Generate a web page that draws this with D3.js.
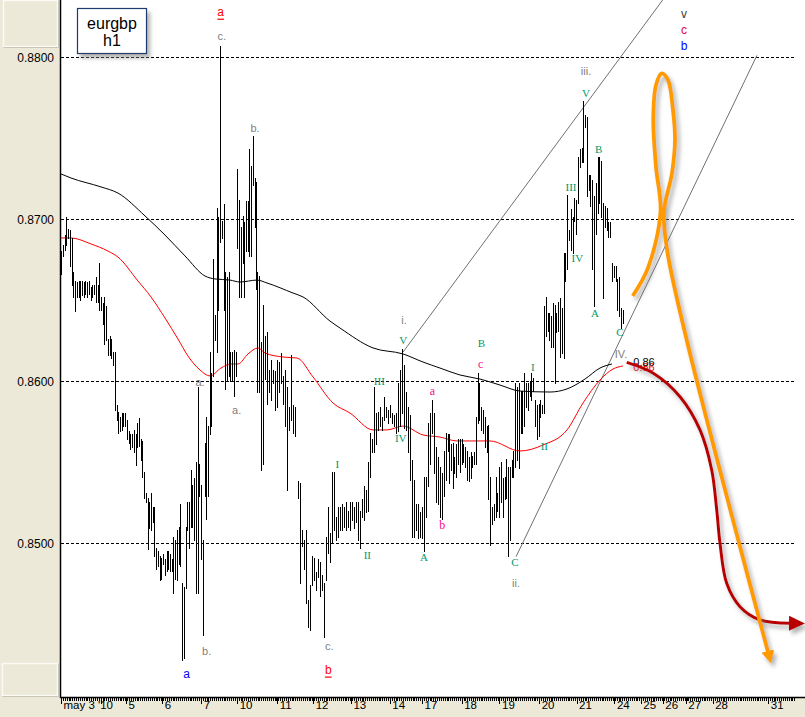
<!DOCTYPE html>
<html><head><meta charset="utf-8">
<script src="https://cdn.jsdelivr.net/npm/d3@7"></script>
<style>body{margin:0;background:#fff}svg{display:block}</style>
</head><body><svg id="c" width="805" height="717"></svg>
<script>
// ---------- DATA ----------
const yTickValues = [0.88, 0.87, 0.86, 0.85];
const dayTickPos = [0, 1.05, 1.72, 2.68, 3.71, 4.66, 5.72, 6.67, 7.67, 8.70, 9.55, 10.60, 11.60, 12.65, 13.64, 14.64, 15.34, 15.92, 16.53, 17.24, 18.71];
const dayTickLabels = ["may 3 '10", "", "5", "6", "7", "10", "11", "12", "13", "14", "17", "18", "19", "20", "21", "24", "25", "26", "27", "28", "31"];

// hourly bars, three runs of sessions (time span in chart days)
const seg1Span = [0.008, 5.167];
const seg1High = [0.8680,0.8684,0.8690,0.8701,0.8694,0.8693,0.8688,0.8667,0.8662,0.8661,
0.8662,0.8662,0.8662,0.8661,0.8662,0.8661,0.8662,0.8658,0.8659,0.8659,
0.8664,0.8659,0.8673,0.8652,0.8648,0.8652,0.8646,0.8626,0.8628,0.8626,
0.8618,0.8618,0.8585,0.8581,0.8578,0.8580,0.8580,0.8580,0.8576,0.8569,
0.8567,0.8567,0.8570,0.8567,0.8574,0.8577,0.8564,0.8563,0.8544,0.8531,
0.8528,0.8525,0.8531,0.8522,0.8522,0.8497,0.8495,0.8492,0.8491,0.8493,
0.8490,0.8495,0.8495,0.8493,0.8490,0.8504,0.8502,0.8508,0.8510,0.8524,
0.8475,0.8473,0.8510,0.8525,0.8525,0.8545,0.8536,0.8540,0.8550,0.8596,
0.8549,0.8536,0.8502,0.8562,0.8578,0.8572,0.8618,0.8605,0.8675,0.8641,
0.8707,0.8701,0.8807,0.8699,0.8709,0.8667,0.8664,0.8667,0.8618,0.8618,
0.8619,0.8618,0.8731,0.8712,0.8695,0.8702,0.8698,0.8711,0.8711,0.8743,
0.8733,0.8751,0.8725,0.8723];
const seg1Low = [0.8666,0.8677,0.8681,0.8684,0.8688,0.8671,0.8659,0.8652,0.8643,0.8652,
0.8652,0.8650,0.8653,0.8652,0.8654,0.8652,0.8654,0.8650,0.8652,0.8654,
0.8649,0.8649,0.8644,0.8644,0.8635,0.8623,0.8625,0.8616,0.8616,0.8614,
0.8610,0.8582,0.8576,0.8568,0.8569,0.8570,0.8572,0.8572,0.8564,0.8562,
0.8558,0.8559,0.8556,0.8548,0.8559,0.8560,0.8551,0.8541,0.8528,0.8525,
0.8496,0.8509,0.8508,0.8513,0.8492,0.8484,0.8486,0.8477,0.8478,0.8487,
0.8480,0.8483,0.8484,0.8483,0.8483,0.8469,0.8478,0.8477,0.8487,0.8486,
0.8428,0.8429,0.8472,0.8508,0.8497,0.8510,0.8510,0.8502,0.8469,0.8469,
0.8529,0.8490,0.8443,0.8529,0.8515,0.8529,0.8567,0.8572,0.8603,0.8625,
0.8618,0.8644,0.8686,0.8688,0.8644,0.8595,0.8600,0.8603,0.8600,0.8600,
0.8591,0.8603,0.8682,0.8652,0.8652,0.8673,0.8652,0.8680,0.8680,0.8677,
0.8677,0.8721,0.8695,0.8657];

const seg2Span = [5.193, 10.246];
const seg2High = [0.8667,0.8665,0.8624,0.8647,0.8628,0.8630,0.8607,0.8613,0.8607,0.8606,
0.8613,0.8612,0.8617,0.8603,0.8607,0.8596,0.8584,0.8616,0.8585,0.8584,
0.8538,0.8537,0.8508,0.8502,0.8508,0.8465,0.8474,0.8492,0.8491,0.8482,
0.8490,0.8488,0.8480,0.8475,0.8504,0.8522,0.8506,0.8544,0.8544,0.8516,
0.8522,0.8522,0.8524,0.8522,0.8525,0.8520,0.8525,0.8525,0.8522,0.8525,
0.8525,0.8520,0.8527,0.8535,0.8533,0.8550,0.8568,0.8564,0.8596,0.8580,
0.8581,0.8584,0.8578,0.8590,0.8584,0.8582,0.8585,0.8580,0.8579,0.8580,
0.8599,0.8607,0.8620,0.8610,0.8593,0.8584,0.8579,0.8551,0.8539,0.8524,
0.8524,0.8519,0.8522,0.8541,0.8541,0.8574,0.8580,0.8588,0.8580,0.8559,
0.8553,0.8547,0.8543,0.8557,0.8568,0.8567];
const seg2Low = [0.8593,0.8593,0.8545,0.8549,0.8601,0.8586,0.8593,0.8588,0.8599,0.8582,
0.8584,0.8593,0.8599,0.8586,0.8572,0.8533,0.8570,0.8576,0.8568,0.8566,
0.8528,0.8475,0.8498,0.8484,0.8463,0.8448,0.8446,0.8474,0.8477,0.8471,
0.8479,0.8467,0.8471,0.8442,0.8477,0.8494,0.8488,0.8500,0.8508,0.8502,
0.8504,0.8508,0.8508,0.8510,0.8508,0.8510,0.8508,0.8514,0.8509,0.8513,
0.8502,0.8497,0.8516,0.8514,0.8519,0.8520,0.8541,0.8556,0.8556,0.8561,
0.8570,0.8572,0.8570,0.8576,0.8578,0.8574,0.8578,0.8574,0.8572,0.8568,
0.8569,0.8572,0.8580,0.8571,0.8570,0.8556,0.8539,0.8504,0.8504,0.8508,
0.8503,0.8504,0.8503,0.8495,0.8516,0.8535,0.8549,0.8568,0.8543,0.8525,
0.8524,0.8516,0.8515,0.8529,0.8539,0.8557];

const seg3Span = [10.265, 14.860];
const seg3High = [0.8567,0.8561,0.8562,0.8553,0.8561,0.8564,0.8564,0.8564,0.8561,0.8559,
0.8557,0.8553,0.8556,0.8554,0.8556,0.8578,0.8605,0.8599,0.8584,0.8582,
0.8578,0.8572,0.8573,0.8541,0.8522,0.8524,0.8541,0.8531,0.8547,0.8550,
0.8540,0.8541,0.8552,0.8547,0.8547,0.8551,0.8557,0.8599,0.8596,0.8599,
0.8594,0.8594,0.8605,0.8599,0.8599,0.8600,0.8605,0.8602,0.8588,0.8585,
0.8586,0.8588,0.8585,0.8646,0.8652,0.8642,0.8642,0.8640,0.8648,0.8647,
0.8642,0.8649,0.8651,0.8645,0.8679,0.8679,0.8715,0.8693,0.8706,0.8701,
0.8713,0.8712,0.8738,0.8743,0.8744,0.8773,0.8764,0.8763,0.8727,0.8727,
0.8724,0.8714,0.8722,0.8738,0.8738,0.8736,0.8710,0.8708,0.8707,0.8698,
0.8698,0.8673,0.8671,0.8671,0.8663,0.8664,0.8645,0.8644];
const seg3Low = [0.8537,0.8545,0.8534,0.8543,0.8541,0.8549,0.8544,0.8549,0.8550,0.8547,
0.8539,0.8538,0.8540,0.8547,0.8549,0.8549,0.8574,0.8576,0.8570,0.8568,
0.8559,0.8556,0.8527,0.8499,0.8512,0.8514,0.8516,0.8520,0.8516,0.8525,
0.8516,0.8527,0.8528,0.8492,0.8502,0.8541,0.8541,0.8547,0.8551,0.8546,
0.8568,0.8568,0.8572,0.8584,0.8582,0.8591,0.8588,0.8594,0.8572,0.8564,
0.8566,0.8578,0.8580,0.8580,0.8628,0.8631,0.8625,0.8621,0.8621,0.8599,
0.8630,0.8631,0.8615,0.8617,0.8614,0.8662,0.8669,0.8687,0.8681,0.8679,
0.8699,0.8691,0.8710,0.8732,0.8735,0.8735,0.8757,0.8714,0.8718,0.8708,
0.8669,0.8646,0.8691,0.8704,0.8710,0.8701,0.8651,0.8695,0.8693,0.8689,
0.8689,0.8662,0.8664,0.8662,0.8644,0.8640,0.8633,0.8636];

// moving averages
const maSlowT = [0,0.265,1.058,1.508,2.222,2.751,3.280,3.810,4.074,4.471,4.735,5.185,5.450,6.138,6.402,7.116,7.381,8.254,9.048,9.577,10.026,10.556,11.085,11.614,12.143,12.937,13.386,13.862,14.259,14.577];
const maSlowV = [0.87278,0.87253,0.87198,0.8716,0.87019,0.86901,0.86772,0.86648,0.8663,0.86623,0.86611,0.86623,0.86605,0.86543,0.86519,0.8637,0.86327,0.86204,0.86167,0.86117,0.8608,0.86037,0.86012,0.85975,0.85938,0.85932,0.85951,0.86012,0.8608,0.86105];
const maFastT = [0,0.265,0.794,1.243,1.508,2.037,2.381,2.751,3.095,3.360,3.677,3.942,4.233,4.497,4.683,4.947,5.212,5.397,5.873,6.243,6.667,7.196,7.646,8.254,8.624,9.048,9.577,10.026,10.476,11.085,11.349,12.143,12.751,13.386,13.810,14.259,14.603,14.868];
const maFastV = [0.86883,0.86883,0.86846,0.86802,0.86765,0.86617,0.86519,0.86389,0.86259,0.86154,0.86068,0.86031,0.8608,0.86105,0.86105,0.86167,0.86204,0.86173,0.86148,0.86142,0.86025,0.85864,0.85802,0.85698,0.85698,0.85722,0.85667,0.85654,0.8563,0.8563,0.8563,0.85568,0.85605,0.85698,0.85864,0.86006,0.86074,0.86093];

// channel lines [t, price]
const channelUpper = [[9.05, 0.86179], [15.93, 0.88356]];
const channelLower = [[12.04, 0.84916], [18.41, 0.8801]];

// projection drawings
const orangeT = [15.124,15.529,15.860,15.741,15.669,15.741,15.892,16.058,16.190,16.243,16.164,15.950,16.040,16.553,17.937,18.704];
const orangeV = [0.86525,0.86698,0.87043,0.87321,0.87611,0.87827,0.87899,0.87858,0.87673,0.87488,0.87284,0.87043,0.86800,0.86253,0.85,0.84327];
const redT = [14.966,15.669,16.376,16.905,17.214,17.347,17.434,17.611,17.963,18.492,19.286];
const redV = [0.86115,0.86048,0.85903,0.85698,0.85451,0.85204,0.84998,0.84751,0.84607,0.84525,0.84504];
const levelLine = {from: 13.730, to: 16.183, price: 0.86115};
const levelText = ["0.86", 15.423, 0.86115, 0.86085];

// wave labels
const labelText = ["a","c.","b.","a.","a.","b.","a","c.","b","I","II","III","IV","V","i.","a","b","A","B","c","C","ii.","I","II","III","IV","V","iii.","B","A","C","IV.","v","c","b"];
const labelT = [4.225,4.251,5.132,3.677,4.648,3.854,3.325,7.098,7.071,7.310,8.103,8.421,8.987,9.056,9.074,9.823,10.087,9.603,11.119,11.103,12.011,12.037,12.479,12.786,13.492,13.659,13.889,13.889,14.225,14.127,14.788,14.815,16.481,16.481,16.481];
const labelV = [0.88280,0.88131,0.87564,0.85996,0.85821,0.84333,0.84191,0.84364,0.84219,0.85488,0.84926,0.85998,0.8565,0.86253,0.86377,0.85938,0.85111,0.84915,0.86233,0.86105,0.84883,0.84751,0.86086,0.85599,0.87196,0.86761,0.87776,0.87914,0.87432,0.86418,0.86301,0.86167,0.88265,0.88167,0.88068];
const labelKind = ["redU","gray","gray","gray","gray","gray","blue","gray","redU","green","green","green","green","green","gray","pink","pink","green","green","pink","green","gray","green","green","green","green","green","gray","green","green","green","gray","dark","crim","blue"];

// ---------- DRAW ----------
const svg = d3.select("#c");
const x = d3.scaleLinear().domain([0, 19.55]).range([61, 800]);
const y = d3.scaleLinear().domain([0.85, 0.88]).range([543, 57]);
const beige = "#ECE9D8";
const plotBottom = 697;

const defs = svg.append("defs");
const f = defs.append("filter").attr("id","sh").attr("x","-30%").attr("y","-30%").attr("width","160%").attr("height","160%");
f.append("feDropShadow").attr("dx",3).attr("dy",4).attr("stdDeviation",2).attr("flood-color","#808080").attr("flood-opacity",0.6);
defs.append("marker").attr("id","arrRed").attr("markerUnits","userSpaceOnUse")
  .attr("markerWidth",20).attr("markerHeight",20).attr("refX",1).attr("refY",8).attr("orient","auto")
  .append("path").attr("d","M0,0.5 L16,8 L0,15.5 Z").attr("fill","#B80000");
defs.append("marker").attr("id","arrOr").attr("markerUnits","userSpaceOnUse")
  .attr("markerWidth",20).attr("markerHeight",20).attr("refX",1).attr("refY",7).attr("orient","auto")
  .append("path").attr("d","M0,0.5 L13,7 L0,13.5 Z").attr("fill","#FF9A00");

svg.append("rect").attr("width",805).attr("height",717).attr("fill","#fff");
// side panels
svg.append("rect").attr("x",0).attr("y",0).attr("width",60).attr("height",717).attr("fill",beige);
svg.append("rect").attr("x",0).attr("y",plotBottom).attr("width",805).attr("height",717-plotBottom).attr("fill",beige);
[[3,0,54,46],[2,663,55,32]].forEach(b=>{
  svg.append("rect").attr("x",b[0]+0.5).attr("y",b[1]+0.5).attr("width",b[2]).attr("height",b[3])
    .attr("fill",beige).attr("stroke","#fbfaf5").attr("stroke-width",1.5);
  svg.append("path").attr("d",`M${b[0]+0.5},${b[1]+b[3]+1.5}H${b[0]+b[2]+1.5}V${b[1]+0.5}`)
    .attr("fill","none").attr("stroke","#c9c6b8").attr("stroke-width",1);
});

// grid
const gx0 = x(0), gx1 = x(19.42);
svg.append("g").selectAll("line").data(yTickValues).join("line")
  .attr("x1",gx0).attr("x2",gx1).attr("y1",d=>Math.round(y(d))+0.5).attr("y2",d=>Math.round(y(d))+0.5)
  .attr("stroke","#000").attr("stroke-dasharray","3,2").attr("shape-rendering","crispEdges");

// channel lines
const lineGen = d3.line().x(d=>x(d[0])).y(d=>y(d[1]));
[channelUpper, channelLower].forEach(c=>{
  svg.append("path").attr("d",lineGen(c)).attr("stroke","#707070").attr("stroke-width",1).attr("fill","none");
});

// moving averages
const ma = (T,V)=>T.map((t,i)=>[t,V[i]]);
const maLine = d3.line().x(d=>x(d[0])).y(d=>y(d[1])).curve(d3.curveMonotoneX);
svg.append("path").attr("d",maLine(ma(maSlowT,maSlowV))).attr("stroke","#000").attr("stroke-width",1).attr("fill","none");
svg.append("path").attr("d",maLine(ma(maFastT,maFastV))).attr("stroke","#FF0000").attr("stroke-width",1).attr("fill","none");

// bars
const bars = [];
[[seg1Span,seg1High,seg1Low],[seg2Span,seg2High,seg2Low],[seg3Span,seg3High,seg3Low]].forEach(([sp,H,L])=>{
  const step = (sp[1]-sp[0])/(H.length-1);
  H.forEach((h,i)=>bars.push({t: sp[0]+i*step, h, l: L[i]}));
});
svg.append("g").attr("shape-rendering","crispEdges").selectAll("line").data(bars).join("line")
  .attr("x1",d=>Math.round(x(d.t))+0.5).attr("x2",d=>Math.round(x(d.t))+0.5)
  .attr("y1",d=>Math.round(y(d.h))).attr("y2",d=>Math.round(y(d.l))+1)
  .attr("stroke","#000").attr("stroke-width",1);

// wave labels
const kindStyle = {
  gray:{fill:"#808080",font:"Liberation Sans, Arial, sans-serif",size:11},
  green:{fill:"#00996B",font:"Liberation Serif, Times New Roman, serif",size:11},
  pink:{fill:"#FF0A84",font:"Liberation Serif, Times New Roman, serif",size:12},
  blue:{fill:"#0000FF",font:"Liberation Sans, Arial, sans-serif",size:12},
  redU:{fill:"#FF0000",font:"Liberation Sans, Arial, sans-serif",size:12,u:true},
  dark:{fill:"#404040",font:"Liberation Sans, Arial, sans-serif",size:12},
  crim:{fill:"#E8003C",font:"Liberation Sans, Arial, sans-serif",size:12}
};
const lbls = labelText.map((t,i)=>({t, tt:labelT[i], v:labelV[i], k:kindStyle[labelKind[i]]}));
svg.append("g").selectAll("text").data(lbls).join("text")
  .attr("x",d=>x(d.tt)).attr("y",d=>y(d.v)).attr("text-anchor","middle").attr("dominant-baseline","central")
  .attr("fill",d=>d.k.fill).attr("font-family",d=>d.k.font).attr("font-size",d=>d.k.size)
  .attr("text-decoration",d=>d.k.u?"underline":null).text(d=>d.t);

// level line + projections
svg.append("line").attr("x1",x(levelLine.from)).attr("x2",x(levelLine.to))
  .attr("y1",y(levelLine.price)).attr("y2",y(levelLine.price))
  .attr("stroke","#B80000").attr("stroke-width",3.5).attr("filter","url(#sh)");
svg.append("text").attr("x",x(levelText[1])).attr("y",y(levelText[3])).attr("text-anchor","middle").attr("dominant-baseline","central")
  .attr("font-family","Liberation Sans, Arial, sans-serif").attr("font-size",11).attr("fill","#FF0000").text(levelText[0]);
svg.append("text").attr("x",x(levelText[1])).attr("y",y(levelText[2])).attr("text-anchor","middle").attr("dominant-baseline","central")
  .attr("font-family","Liberation Sans, Arial, sans-serif").attr("font-size",11).attr("fill","#000").text(levelText[0]);

const curve = d3.line().x(d=>x(d[0])).y(d=>y(d[1])).curve(d3.curveCatmullRom.alpha(0.5));
svg.append("path").attr("d",curve(ma(redT,redV))).attr("fill","none").attr("stroke","#B80000")
  .attr("stroke-width",3).attr("marker-end","url(#arrRed)").attr("filter","url(#sh)");
svg.append("path").attr("d",curve(ma(orangeT,orangeV))).attr("fill","none").attr("stroke","#FF9A00")
  .attr("stroke-width",3.8).attr("marker-end","url(#arrOr)").attr("filter","url(#sh)");

// title box
svg.append("rect").attr("x",77.5).attr("y",8.5).attr("width",69).attr("height",45)
  .attr("fill","#fff").attr("stroke","#1F3A6E").attr("stroke-width",1.2).attr("filter","url(#sh)");
svg.append("text").attr("x",112).attr("y",29).attr("text-anchor","middle").attr("font-family","Liberation Sans, Arial, sans-serif")
  .attr("font-size",16).attr("fill","#000").text("eurgbp");
svg.append("text").attr("x",112).attr("y",46).attr("text-anchor","middle").attr("font-family","Liberation Sans, Arial, sans-serif")
  .attr("font-size",16).attr("fill","#000").text("h1");

// axes frame
svg.append("line").attr("x1",60.5).attr("x2",60.5).attr("y1",0).attr("y2",plotBottom+1).attr("stroke","#000").attr("stroke-width",1.5);
svg.append("line").attr("x1",60).attr("x2",805).attr("y1",plotBottom+0.5).attr("y2",plotBottom+0.5).attr("stroke","#000").attr("stroke-width",1.5);

// y labels
svg.append("g").selectAll("text").data(yTickValues).join("text")
  .attr("x",54).attr("y",d=>y(d)+1).attr("text-anchor","end").attr("dominant-baseline","central")
  .attr("font-family","Liberation Sans, Arial, sans-serif").attr("font-size",12).attr("fill","#000")
  .text(d=>d3.format(".4f")(d));

// x axis ticks
const minor = d3.range(0, 19.42, 0.05);
svg.append("g").attr("shape-rendering","crispEdges").selectAll("line").data(minor).join("line")
  .attr("x1",d=>Math.round(x(d))+0.5).attr("x2",d=>Math.round(x(d))+0.5)
  .attr("y1",plotBottom+1).attr("y2",plotBottom+3.5).attr("stroke","#000");
svg.append("g").attr("shape-rendering","crispEdges").selectAll("line").data(dayTickPos).join("line")
  .attr("x1",d=>Math.round(x(d))+0.5).attr("x2",d=>Math.round(x(d))+0.5)
  .attr("y1",plotBottom+1).attr("y2",plotBottom+7).attr("stroke","#000");
svg.append("g").selectAll("text").data(dayTickPos).join("text")
  .attr("x",d=>x(d)+2.5).attr("y",709).attr("font-family","Liberation Sans, Arial, sans-serif")
  .attr("font-size",11.5).attr("fill","#000").text((d,i)=>dayTickLabels[i]);
</script></body></html>
